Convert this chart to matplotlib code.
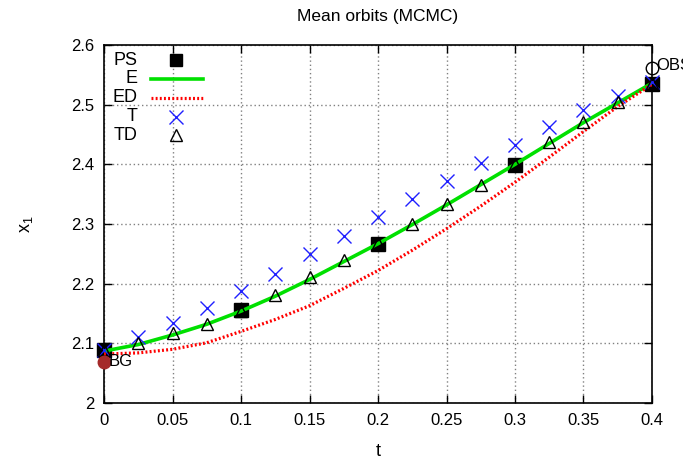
import numpy as np
import matplotlib
matplotlib.use('Agg')
import matplotlib.pyplot as plt

# ── data ────────────────────────────────────────────────────
t_fine = [0.0, 0.025, 0.05, 0.075, 0.1, 0.125, 0.15, 0.175, 0.2,
          0.225, 0.25, 0.275, 0.3, 0.325, 0.35, 0.375, 0.4]
t_ps = [0.0, 0.1, 0.2, 0.3, 0.4]

ps_vals = [2.089, 2.156, 2.267, 2.399, 2.535]
e_vals = [2.087, 2.098, 2.114, 2.132, 2.154, 2.179, 2.207, 2.237, 2.267,
          2.299, 2.332, 2.366, 2.400, 2.435, 2.470, 2.503, 2.536]
ed_vals = [2.082, 2.084, 2.090, 2.101, 2.120, 2.140, 2.163, 2.192, 2.222,
           2.256, 2.292, 2.330, 2.370, 2.412, 2.455, 2.497, 2.534]
t_vals = [2.088, 2.111, 2.134, 2.159, 2.187, 2.217, 2.250, 2.280, 2.312,
          2.342, 2.372, 2.402, 2.432, 2.463, 2.491, 2.514, 2.538]
td_vals = [2.089, 2.101, 2.117, 2.133, 2.155, 2.181, 2.211, 2.240, 2.268,
           2.300, 2.334, 2.365, 2.400, 2.437, 2.471, 2.505, 2.536]

bg_t, bg_x = 0.0, 2.069
obs_t, obs_x = 0.4, 2.561

x_ticks = [0, 0.05, 0.1, 0.15, 0.2, 0.25, 0.3, 0.35, 0.4]
x_labels = ['0', '0.05', '0.1', '0.15', '0.2', '0.25', '0.3', '0.35', '0.4']
y_ticks = [2.0, 2.1, 2.2, 2.3, 2.4, 2.5, 2.6]
y_labels = ['2', '2.1', '2.2', '2.3', '2.4', '2.5', '2.6']

# ── style ───────────────────────────────────────────────────
plt.rcParams['font.family'] = ['Liberation Sans', 'DejaVu Sans']
plt.rcParams['font.size'] = 12
plt.rcParams['mathtext.default'] = 'regular'

green = '#00e000'
red = '#ff0000'
blue = '#2020ff'

fig = plt.figure(figsize=(6.83, 4.62), dpi=100)
ax = fig.add_axes([0.1523, 0.1277, 0.8023, 0.7749])

ax.set_xlim(0, 0.4)
ax.set_ylim(2.0, 2.6)
ax.set_xticks(x_ticks)
ax.set_xticklabels(x_labels)
ax.set_yticks(y_ticks)
ax.set_yticklabels(y_labels)
ax.tick_params(direction='in', length=6, width=1, top=True, right=True,
               labelsize=12, pad=7, colors='black')
ax.grid(True, color='#808080', linestyle=(0, (1, 2)), linewidth=1)
ax.set_axisbelow(True)
for s in ax.spines.values():
    s.set_linewidth(1.2)

# ── series ──────────────────────────────────────────────────
ax.plot(t_ps, ps_vals, 's', color='black', markersize=9.5,
        clip_on=False, zorder=3)
ax.plot(t_fine, e_vals, '-', color=green, linewidth=2.6, zorder=4)
ax.plot(t_fine, ed_vals, color=red, linewidth=2.3,
        linestyle=(0, (0.6, 0.7)), zorder=4)
ax.plot(t_fine, t_vals, 'x', color=blue, markersize=10,
        markeredgewidth=1, clip_on=False, zorder=5)
ax.plot(t_fine, td_vals, '^', markerfacecolor='none',
        markeredgecolor='black', markersize=9, markeredgewidth=1,
        clip_on=False, zorder=6)

# background / observation points
ax.plot([bg_t], [bg_x], 'o', color='#a52a2a', markersize=9,
        clip_on=False, zorder=7)
ax.text(bg_t + 0.003, bg_x, 'BG', ha='left', va='center',
        fontsize=12, zorder=8, clip_on=False)
ax.plot([obs_t], [obs_x], 'o', markerfacecolor='none',
        markeredgecolor='black', markersize=9, markeredgewidth=1,
        clip_on=False, zorder=7)
ax.text(obs_t + 0.003, obs_x + 0.004, 'OBS', ha='left', va='center',
        fontsize=12, zorder=8, clip_on=False)

# ── gnuplot-style key (text right, sample left) ─────────────
key_names = ['PS', 'E', 'ED', 'T', 'TD']
row_y = [0.958, 0.906, 0.853, 0.800, 0.748]
txt_x = 0.061
sym_x = 0.131
ln_x0, ln_x1 = 0.086, 0.181
trans = ax.transAxes
for name, yy in zip(key_names, row_y):
    ax.text(txt_x, yy, name, transform=trans, ha='right', va='center',
            fontsize=13, zorder=9)
ax.plot([sym_x], [row_y[0]], 's', color='black', markersize=8.5,
        transform=trans, zorder=9)
ax.plot([ln_x0, ln_x1], [row_y[1]] * 2, '-', color=green, linewidth=2.6,
        transform=trans, zorder=9)
ax.plot([ln_x0, ln_x1], [row_y[2]] * 2, color=red, linewidth=2.3,
        linestyle=(0, (0.6, 0.7)), transform=trans, zorder=9)
ax.plot([sym_x], [row_y[3]], 'x', color=blue, markersize=10,
        markeredgewidth=1, transform=trans, zorder=9)
ax.plot([sym_x], [row_y[4]], '^', markerfacecolor='none',
        markeredgecolor='black', markersize=9, markeredgewidth=1,
        transform=trans, zorder=9)

ax.set_title('Mean orbits (MCMC)', fontsize=12.5, pad=17)
ax.set_xlabel('t', fontsize=13, labelpad=11)
ax.set_ylabel('x$_1$', fontsize=13, labelpad=26)

fig.savefig('out.png', dpi=100)
